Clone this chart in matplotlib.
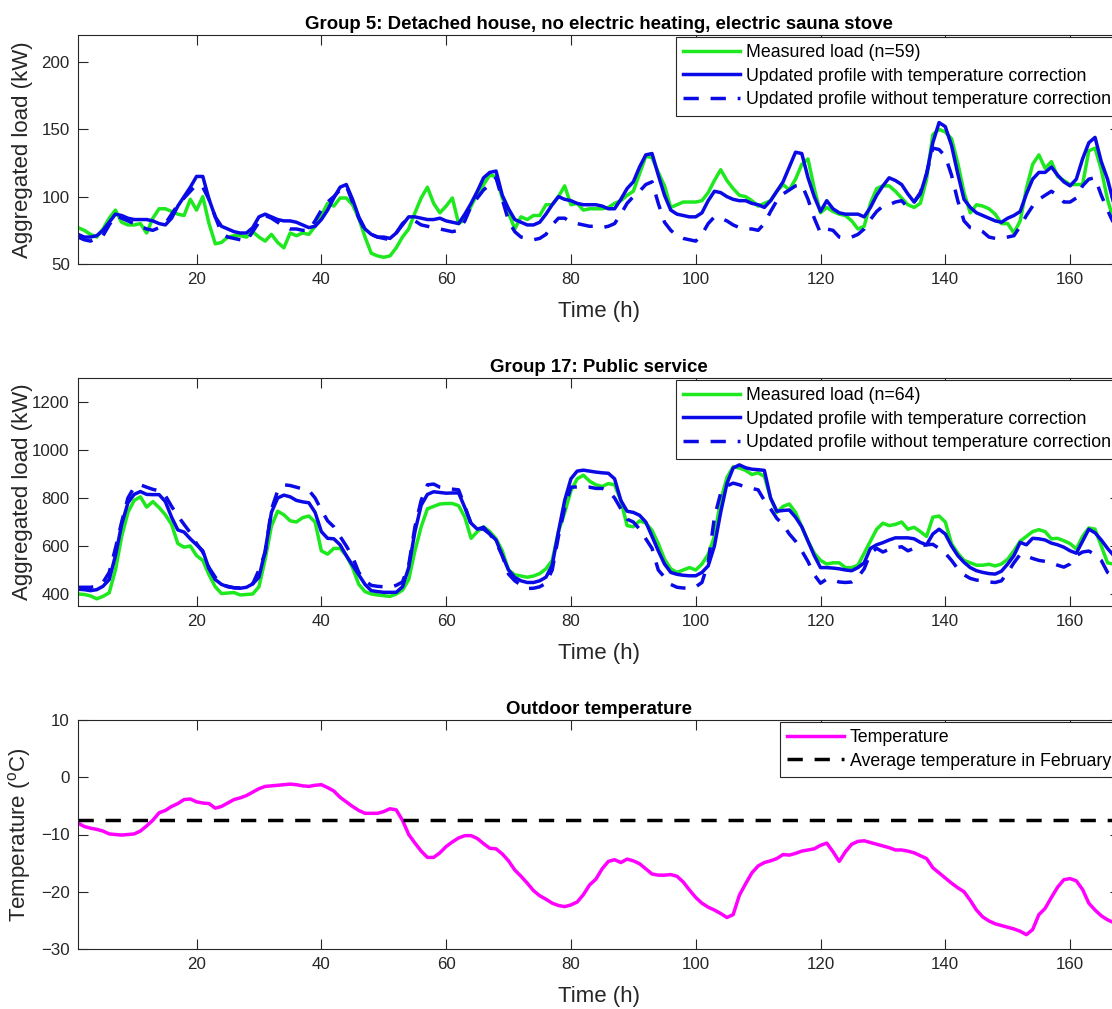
import matplotlib
matplotlib.use('Agg')
import matplotlib.pyplot as plt
import numpy as np

plt.rcParams['font.family'] = ['Liberation Sans', 'DejaVu Sans']
plt.rcParams['mathtext.fontset'] = 'custom'
plt.rcParams['mathtext.rm'] = 'Liberation Sans'

hours = np.arange(1, 169)

# group 5: detached house, electric sauna stove (kW)
g5_measured = [
    77, 75, 72, 70, 76, 84, 90, 81, 79, 79, 80, 73,
    84, 91, 91, 89, 87, 86, 98, 90, 100, 80, 65, 66,
    70, 71, 71, 70, 74, 70, 67, 72, 66, 62, 73, 71,
    73, 72, 78, 86, 95, 93, 99, 99, 94, 84, 70, 58,
    56, 55, 56, 62, 70, 76, 88, 99, 107, 95, 88, 93,
    99, 80, 83, 93, 102, 109, 116, 115, 99, 88, 76, 85,
    83, 86, 86, 94, 94, 100, 108, 94, 95, 90, 91, 91,
    91, 92, 95, 97, 101, 104, 117, 130, 129, 118, 108, 92,
    94, 96, 96, 96, 97, 103, 112, 120, 112, 106, 101, 100,
    97, 93, 95, 97, 104, 109, 105, 113, 124, 128, 106, 88,
    92, 89, 87, 86, 82, 76, 78, 95, 106, 108, 108, 104,
    99, 94, 92, 95, 113, 146, 150, 148, 143, 125, 103, 88,
    94, 93, 91, 87, 80, 80, 73, 82, 106, 124, 131, 121,
    126, 115, 112, 109, 109, 109, 134, 136, 120, 98, 82, 78]
g5_with_corr = [
    72, 70, 70, 71, 75, 81, 87, 86, 84, 83, 83, 83,
    82, 80, 79, 84, 93, 100, 107, 115, 115, 98, 85, 78,
    76, 74, 73, 73, 77, 85, 87, 85, 83, 82, 82, 81,
    79, 77, 78, 83, 90, 99, 107, 109, 98, 85, 76, 72,
    70, 70, 69, 73, 79, 85, 85, 84, 83, 83, 84, 82,
    81, 80, 87, 95, 104, 114, 118, 119, 101, 91, 83, 81,
    79, 79, 81, 87, 94, 100, 98, 97, 95, 94, 94, 94,
    93, 91, 91, 98, 106, 111, 122, 131, 132, 116, 101, 90,
    87, 86, 85, 85, 88, 97, 104, 103, 100, 98, 97, 97,
    95, 94, 92, 97, 104, 111, 122, 133, 132, 114, 100, 89,
    97, 91, 88, 87, 87, 87, 85, 92, 101, 108, 114, 112,
    109, 102, 96, 102, 117, 140, 155, 152, 138, 117, 98, 92,
    88, 86, 84, 82, 81, 84, 86, 89, 102, 113, 118, 118,
    122, 116, 111, 108, 113, 128, 140, 144, 126, 113, 95, 85]
g5_without_corr = [
    70, 68, 67, 69, 71, 79, 86, 84, 82, 80, 78, 76,
    75, 77, 80, 87, 94, 99, 104, 109, 107, 98, 85, 73,
    70, 69, 68, 67, 74, 81, 86, 84, 81, 78, 76, 76,
    75, 75, 82, 90, 96, 100, 105, 108, 96, 84, 75, 72,
    70, 69, 68, 73, 80, 84, 82, 79, 78, 77, 76, 75,
    74, 75, 82, 93, 99, 105, 109, 114, 98, 82, 74, 70,
    69, 68, 69, 72, 79, 84, 84, 81, 80, 79, 78, 78,
    77, 78, 80, 87, 95, 100, 104, 109, 111, 95, 81, 75,
    71, 69, 68, 67, 72, 80, 85, 84, 82, 79, 77, 76,
    76, 75, 80, 89, 97, 102, 105, 108, 109, 98, 84, 73,
    76, 75, 70, 69, 70, 72, 76, 83, 89, 93, 94, 96,
    97, 92, 96, 103, 117, 136, 135, 130, 116, 97, 82, 77,
    76, 74, 70, 69, 69, 70, 71, 78, 86, 93, 98, 101,
    104, 101, 96, 96, 99, 108, 113, 114, 101, 90, 80, 76]

# group 17: public service (kW)
g17_measured = [
    400, 398, 392, 380, 390, 405, 500, 640, 740, 790, 805, 762,
    785, 760, 730, 690, 610, 595, 600, 560, 540, 480, 430, 402,
    404, 406, 396, 398, 400, 430, 545, 683, 745, 730, 705, 700,
    718, 725, 700, 580, 566, 590, 590, 560, 510, 440, 410, 400,
    396, 393, 390, 400, 416, 460, 580, 680, 755, 765, 775, 777,
    777, 768, 720, 632, 660, 680, 660, 630, 580, 500, 480, 475,
    470, 475, 485, 505, 540, 660, 740, 830, 880, 895, 870, 855,
    848, 860, 855, 790, 685, 680, 705, 695, 665, 610, 545, 505,
    490, 500, 510, 500, 525, 565, 640, 790, 885, 930, 925, 915,
    898, 905, 890, 800, 740, 765, 775, 740, 680, 620, 570, 540,
    525, 530, 530, 510, 510, 520, 570, 620, 670, 695, 685, 690,
    700, 670, 678, 660, 640, 720, 725, 700, 610, 570, 540, 530,
    520, 520, 524, 517, 525, 545, 580, 620, 640, 660, 668, 660,
    630, 632, 622, 610, 588, 640, 675, 670, 600, 530, 524, 530]
g17_with_corr = [
    420, 418, 414, 418, 432, 460, 560, 690, 780, 815, 827, 815,
    814, 814, 785, 720, 667, 658, 630, 605, 580, 505, 460, 440,
    430, 426, 424, 428, 442, 470, 580, 740, 800, 812, 805, 790,
    784, 780, 740, 660, 632, 630, 605, 560, 520, 480, 440, 414,
    410, 407, 407, 407, 430, 510, 660, 770, 815, 826, 823, 820,
    821, 821, 760, 695, 670, 678, 650, 625, 560, 500, 469, 455,
    448, 448, 455, 470, 520, 660, 790, 880, 912, 916, 912, 908,
    905, 903, 880, 790, 745, 740, 728, 700, 640, 580, 525, 490,
    482, 478, 476, 476, 490, 517, 600, 740, 860, 925, 938, 926,
    920, 918, 915, 800, 745, 748, 750, 720, 680, 620, 560, 510,
    510, 508, 505, 500, 497, 510, 530, 590, 605, 614, 625, 634,
    634, 634, 630, 615, 605, 650, 670, 650, 600, 560, 532, 510,
    497, 490, 485, 483, 495, 525, 560, 615, 605, 632, 630, 625,
    612, 605, 595, 580, 570, 620, 670, 655, 625, 590, 560, 545]
g17_without_corr = [
    428, 428, 428, 432, 448, 490, 590, 700, 800, 845, 855, 845,
    836, 830, 810, 765, 725, 690, 655, 610, 575, 510, 470, 440,
    432, 426, 425, 430, 442, 500, 572, 752, 830, 855, 852, 845,
    838, 832, 800, 750, 705, 680, 640, 600, 555, 490, 455, 436,
    432, 430, 428, 436, 450, 520, 680, 790, 855, 858, 845, 840,
    837, 834, 766, 690, 672, 670, 650, 615, 560, 483, 455, 437,
    423, 424, 430, 445, 500, 640, 760, 845, 846, 842, 845, 840,
    840, 830, 800, 755, 712, 700, 670, 630, 590, 500, 470, 440,
    428, 425, 424, 430, 448, 530, 720, 820, 850, 862, 855, 845,
    840, 834, 790, 755, 715, 690, 650, 620, 580, 535, 480, 445,
    462, 458, 450, 448, 450, 470, 505, 570, 590, 575, 586, 592,
    597, 580, 590, 600, 605, 607, 590, 570, 540, 505, 480, 465,
    458, 455, 450, 448, 455, 490, 530, 565, 558, 548, 540, 536,
    530, 520, 512, 525, 560, 575, 579, 565, 540, 490, 470, 460]

# outdoor temperature (C)
temperature = [
    -8.0, -8.6, -8.9, -9.1, -9.4, -9.9, -10.0, -10.1, -10.0, -9.9, -9.4, -8.5,
    -7.5, -6.2, -5.8, -5.1, -4.6, -3.9, -3.8, -4.3, -4.5, -4.6, -5.4, -5.1,
    -4.5, -3.9, -3.6, -3.2, -2.6, -2.0, -1.6, -1.5, -1.4, -1.3, -1.2, -1.3,
    -1.5, -1.6, -1.4, -1.3, -1.8, -2.4, -3.5, -4.3, -5.1, -5.8, -6.3, -6.3,
    -6.3, -6.0, -5.5, -5.7, -7.5, -10.0, -11.5, -12.9, -14.0, -14.0, -13.2, -12.1,
    -11.3, -10.6, -10.2, -10.2, -10.7, -11.6, -12.4, -12.5, -13.4, -14.6, -16.2, -17.3,
    -18.5, -19.8, -20.7, -21.3, -22.0, -22.4, -22.6, -22.3, -21.8, -20.5, -18.8, -17.8,
    -16.0, -14.7, -14.4, -14.9, -14.3, -14.6, -15.1, -16.0, -16.9, -17.1, -17.1, -17.0,
    -17.3, -18.3, -19.7, -21.0, -22.0, -22.7, -23.2, -23.8, -24.5, -24.0, -20.6, -18.6,
    -16.7, -15.5, -14.9, -14.6, -14.2, -13.5, -13.6, -13.3, -12.9, -12.7, -12.5, -11.9,
    -11.5, -13.0, -14.7, -13.0, -11.7, -11.2, -11.1, -11.4, -11.7, -12.0, -12.3, -12.7,
    -12.7, -12.9, -13.2, -13.7, -14.2, -15.8, -16.7, -17.6, -18.5, -19.3, -20.0, -21.5,
    -23.2, -24.4, -25.1, -25.6, -25.9, -26.2, -26.5, -26.9, -27.5, -26.6, -24.0, -22.9,
    -21.0, -19.2, -17.9, -17.7, -18.1, -19.6, -22.0, -23.2, -24.2, -24.9, -25.4, -25.7]
avg_feb_temperature = -7.5

GREEN = '#1ee81e'
BLUE = '#0a0ae6'
MAGENTA = '#ff00ff'
AX_GRAY = '#262626'
DASH = (0, (4.4, 3.4))
LW = 2.5


def style_axes(ax, ylim, yticks):
    ax.set_xlim(1, 168)
    ax.set_ylim(*ylim)
    ax.set_xticks(np.arange(20, 161, 20))
    ax.set_yticks(yticks)
    ax.tick_params(direction='in', length=7.5, width=0.8, top=True, right=True,
                   labelsize=12.2, colors=AX_GRAY, pad=6)
    for s in ax.spines.values():
        s.set_color(AX_GRAY)
        s.set_linewidth(0.8)
    ax.set_xlabel('Time (h)', fontsize=16, color=AX_GRAY, labelpad=10)
    ax.yaxis.set_label_coords(-0.043, 0.5)


def add_legend(ax):
    leg = ax.legend(loc='upper right', bbox_to_anchor=(1.0, 1.0), borderaxespad=0.1,
                    fontsize=12.8, frameon=True, fancybox=False, edgecolor=AX_GRAY,
                    framealpha=1, handlelength=3.2, handletextpad=0.35,
                    labelspacing=0.38, borderpad=0.4)
    leg.get_frame().set_linewidth(0.8)
    return leg


fig = plt.figure(figsize=(11.12, 10.09), dpi=100)
W, H = 1112.0, 1009.0
left = 78 / W
width = (1120 - 78) / W

ax1 = fig.add_axes([left, (H - 264) / H, width, 229 / H])
ax2 = fig.add_axes([left, (H - 606) / H, width, 228 / H])
ax3 = fig.add_axes([left, (H - 949) / H, width, 229 / H])

# group 5
ax1.plot(hours, g5_measured, color=GREEN, lw=LW, label='Measured load (n=59)')
ax1.plot(hours, g5_with_corr, color=BLUE, lw=LW,
         label='Updated profile with temperature correction')
ax1.plot(hours, g5_without_corr, color=BLUE, lw=LW, ls=DASH,
         label='Updated profile without temperature correction')
style_axes(ax1, (50, 220), [50, 100, 150, 200])
ax1.set_ylabel('Aggregated load (kW)', fontsize=16, color=AX_GRAY)
ax1.set_title('Group 5: Detached house, no electric heating, electric sauna stove',
              fontsize=13.4, fontweight='bold', pad=4)
add_legend(ax1)

# group 17
ax2.plot(hours, g17_measured, color=GREEN, lw=LW, label='Measured load (n=64)')
ax2.plot(hours, g17_with_corr, color=BLUE, lw=LW,
         label='Updated profile with temperature correction')
ax2.plot(hours, g17_without_corr, color=BLUE, lw=LW, ls=DASH,
         label='Updated profile without temperature correction')
style_axes(ax2, (350, 1300), [400, 600, 800, 1000, 1200])
ax2.set_ylabel('Aggregated load (kW)', fontsize=16, color=AX_GRAY)
ax2.set_title('Group 17: Public service', fontsize=13.4, fontweight='bold', pad=4)
add_legend(ax2)

# temperature
ax3.plot(hours, temperature, color=MAGENTA, lw=LW, label='Temperature')
ax3.axhline(avg_feb_temperature, color='black', lw=LW, ls=DASH,
            label='Average temperature in February')
style_axes(ax3, (-30, 10), [-30, -20, -10, 0, 10])
ax3.set_ylabel(r'Temperature ($^{\mathrm{o}}$C)', fontsize=16, color=AX_GRAY)
ax3.set_title('Outdoor temperature', fontsize=13.4, fontweight='bold', pad=4)
add_legend(ax3)

fig.savefig('out.png', dpi=100, facecolor='white')
